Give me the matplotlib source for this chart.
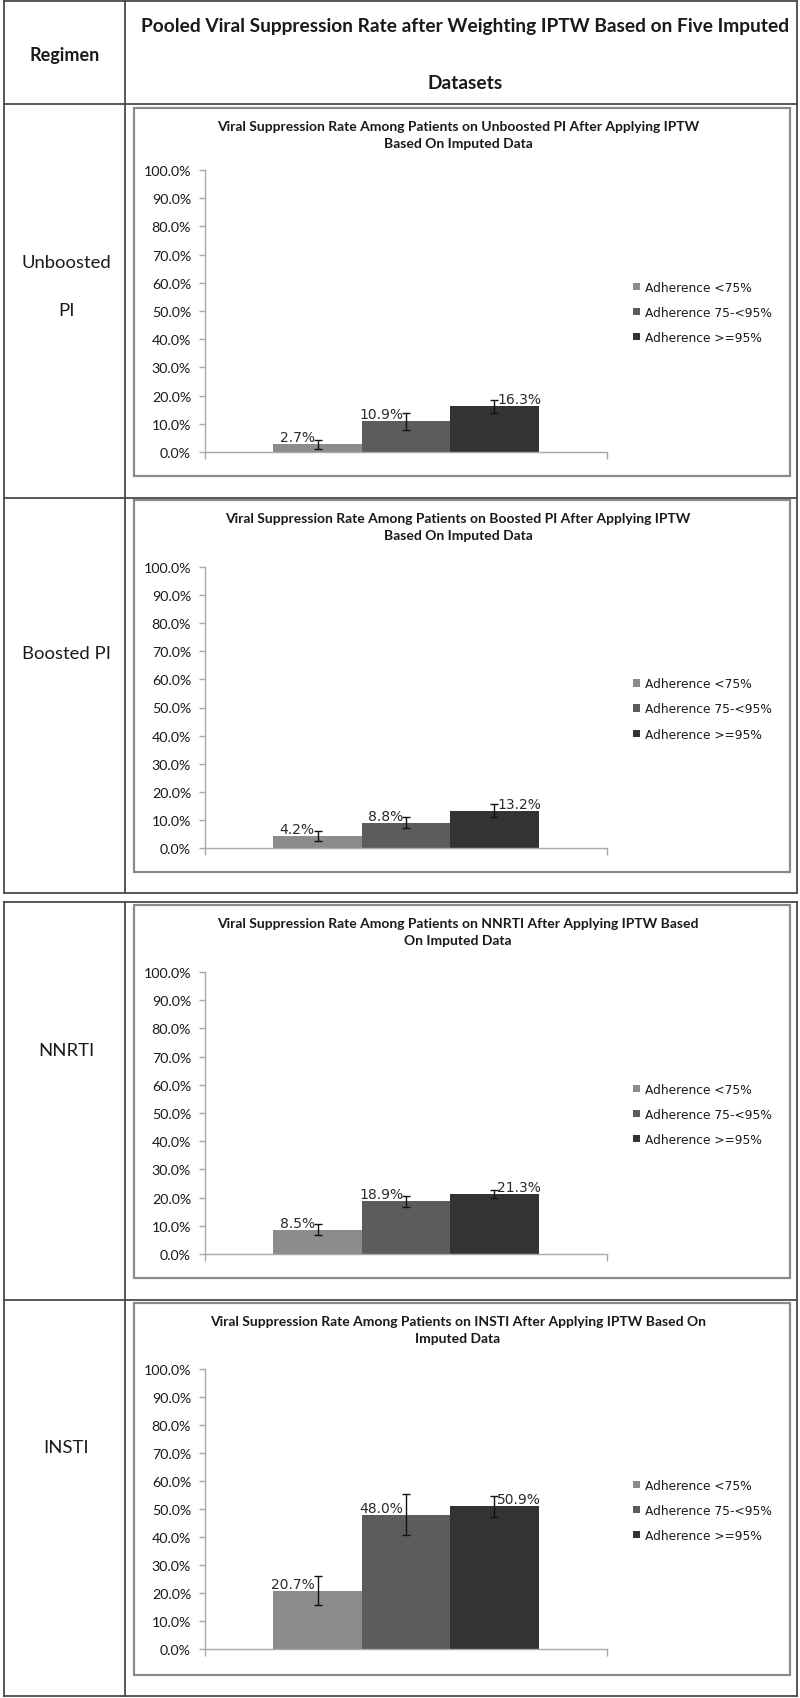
import matplotlib
matplotlib.use("Agg")
import matplotlib.pyplot as plt
from matplotlib.lines import Line2D
from matplotlib.patches import Rectangle
from matplotlib.ticker import FuncFormatter, MultipleLocator

# ---------------- data ----------------
regimens = ["Unboosted PI", "Boosted PI", "NNRTI", "INSTI"]
row_labels = ["Unboosted\n\nPI", "Boosted PI", "NNRTI", "INSTI"]
chart_titles = [
    "Viral Suppression Rate Among Patients on Unboosted PI After Applying IPTW\nBased On Imputed Data",
    "Viral Suppression Rate Among Patients on Boosted PI After Applying IPTW\nBased On Imputed Data",
    "Viral Suppression Rate Among Patients on NNRTI After Applying IPTW Based\nOn Imputed Data",
    "Viral Suppression Rate Among Patients on INSTI After Applying IPTW Based On\nImputed Data",
]
adherence_groups = ["Adherence <75%", "Adherence 75-<95%", "Adherence >=95%"]

rate_unboosted = [2.7, 10.9, 16.3]
rate_boosted = [4.2, 8.8, 13.2]
rate_nnrti = [8.5, 18.9, 21.3]
rate_insti = [20.7, 48.0, 50.9]

lower_unboosted = [1.0, 7.8, 14.0]
upper_unboosted = [4.1, 14.0, 18.4]
lower_boosted = [2.6, 7.0, 10.9]
upper_boosted = [5.9, 11.2, 15.6]
lower_nnrti = [6.7, 16.8, 19.7]
upper_nnrti = [10.6, 20.6, 22.6]
lower_insti = [15.7, 40.8, 47.2]
upper_insti = [25.9, 55.4, 54.6]

header_left = "Regimen"
header_right = "Pooled Viral Suppression Rate after Weighting IPTW Based on Five Imputed\n\nDatasets"

rates = [rate_unboosted, rate_boosted, rate_nnrti, rate_insti]
lowers = [lower_unboosted, lower_boosted, lower_nnrti, lower_insti]
uppers = [upper_unboosted, upper_boosted, upper_nnrti, upper_insti]

# ---------------- styling / layout ----------------
W, H = 800, 1699
fig = plt.figure(figsize=(W / 100, H / 100), dpi=100)
fig.patch.set_facecolor("white")

def fx(x):
    return x / W

def fy(y):
    return 1 - y / H

bar_colors = ["#8c8c8c", "#5c5c5c", "#333333"]
line_col = "#4a4a4a"
box_col = "#8a8a8a"
axis_col = "#a8a8a8"
cal = ["Lato", "DejaVu Sans"]
ver = ["DejaVu Sans"]

def hline(x0, x1, y, color=line_col, lw=1.3):
    fig.add_artist(Line2D([fx(x0), fx(x1)], [fy(y), fy(y)], color=color, lw=lw))

def vline(x, y0, y1, color=line_col, lw=1.3):
    fig.add_artist(Line2D([fx(x), fx(x)], [fy(y0), fy(y1)], color=color, lw=lw))

# table 1 (header + two rows)
for y in [2, 105, 499, 894]:
    hline(4, 797, y)
for x in [4, 125, 797]:
    vline(x, 2, 894)
# table 2 (two rows)
for y in [903, 1301, 1697]:
    hline(4, 797, y)
for x in [4, 125, 797]:
    vline(x, 903, 1697)

fig.text(fx(65), fy(55), header_left, ha="center", va="center",
         fontsize=13, fontweight="bold", family=cal, color="#1a1a1a")
fig.text(fx(465), fy(55), header_right, ha="center", va="center",
         fontsize=13.8, fontweight="bold", family=cal, color="#1a1a1a",
         linespacing=1.8)

row_label_y = [287, 654, 1051, 1448]
boxes = [(109, 477), (501, 873), (906, 1279), (1304, 1676)]
axes_y = [(171, 453), (568, 849), (973, 1255), (1370, 1650)]
ax_x0, ax_x1 = 205, 607

bar_w = 0.22
offsets = [-bar_w, 0.0, bar_w]

for i in range(4):
    fig.text(fx(66), fy(row_label_y[i]), row_labels[i], ha="center", va="center",
             fontsize=13.3, family=cal, color="#1a1a1a", linespacing=1.6)
    b0, b1 = boxes[i]
    fig.add_artist(Rectangle((fx(134), fy(b1)), fx(790) - fx(134), fy(b0) - fy(b1),
                             fill=False, edgecolor=box_col, lw=1.6))
    t1, t2 = chart_titles[i].split("\n")
    fig.text(fx(458), fy(b0 + 18), t1, ha="center", va="center", fontsize=10.0,
             fontweight="bold", family=cal, color="#1a1a1a")
    fig.text(fx(458), fy(b0 + 35), t2, ha="center", va="center", fontsize=10.0,
             fontweight="bold", family=cal, color="#1a1a1a")

    top, bot = axes_y[i]
    ax = fig.add_axes([fx(ax_x0), fy(bot), fx(ax_x1) - fx(ax_x0), fy(top) - fy(bot)])
    ax.set_facecolor("none")
    vals = [v / 100 for v in rates[i]]
    lo = [(v - l) / 100 for v, l in zip(rates[i], lowers[i])]
    hi = [(u - v) / 100 for v, u in zip(rates[i], uppers[i])]
    handles = []
    for j in range(3):
        bh = ax.bar(offsets[j], vals[j], width=bar_w, color=bar_colors[j],
                    edgecolor="none", label=adherence_groups[j], zorder=2)
        handles.append(bh)
        ax.errorbar(offsets[j], vals[j], yerr=[[lo[j]], [hi[j]]], fmt="none",
                    ecolor="#111111", elinewidth=1.0, capsize=3, capthick=1.0, zorder=3)
        if j < 2:
            ax.annotate(f"{rates[i][j]:.1f}%", (offsets[j], vals[j]), xytext=(-2, 0),
                        textcoords="offset points", ha="right", va="bottom",
                        fontsize=10, family=ver, color="#2a2a2a", zorder=4)
        else:
            ax.annotate(f"{rates[i][j]:.1f}%", (offsets[j], vals[j]), xytext=(2, 0),
                        textcoords="offset points", ha="left", va="bottom",
                        fontsize=10, family=ver, color="#2a2a2a", zorder=4)
    ax.set_xlim(-0.5, 0.5)
    ax.set_ylim(0, 1.0)
    ax.yaxis.set_major_locator(MultipleLocator(0.1))
    ax.yaxis.set_major_formatter(FuncFormatter(lambda v, p: f"{v * 100:.1f}%"))
    ax.set_xticks([-0.5, 0.5])
    ax.set_xticklabels([])
    for s in ["top", "right"]:
        ax.spines[s].set_visible(False)
    for s in ["left", "bottom"]:
        ax.spines[s].set_color(axis_col)
        ax.spines[s].set_linewidth(1.0)
    ax.tick_params(axis="y", length=4, width=1.0, color=axis_col, pad=6,
                   labelsize=10.3, labelcolor="#1a1a1a")
    ax.tick_params(axis="x", length=5, width=1.0, color=axis_col)
    for lab in ax.get_yticklabels():
        lab.set_family(cal)
    ax.legend(handles=handles, loc="center left", bbox_to_anchor=(1.065, 0.495),
              frameon=False, handlelength=0.55, handleheight=0.55, handletextpad=0.45,
              labelspacing=1.0, borderpad=0, borderaxespad=0,
              prop={"family": ver, "size": 8.8}, labelcolor="#1a1a1a")

fig.savefig("out.png", dpi=100, facecolor="white")
